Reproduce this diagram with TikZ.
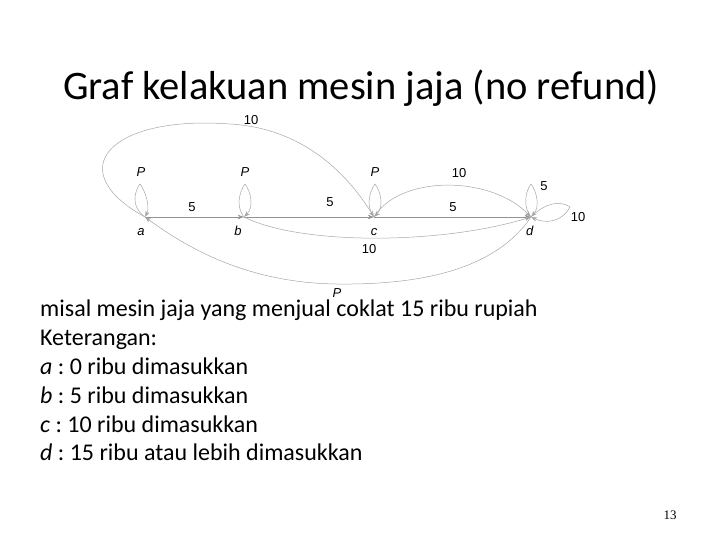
\documentclass[tikz,border=0pt]{standalone}
\usepackage{fontspec}
\setmainfont{Carlito}
\newfontfamily\diagfont{Liberation Sans}
\newfontfamily\pagefont{Liberation Serif}
\usetikzlibrary{arrows.meta}
\frenchspacing

\begin{document}
\begin{tikzpicture}[x=1pt,y=-1pt,
	state/.style={inner sep=0pt,minimum size=0pt},
	lbl/.style={font=\diagfont\fontsize{13}{15}\selectfont,inner sep=0pt},
	trans/.style={draw=gray!85,line width=0.5pt,-{Stealth[length=6pt,width=4.5pt]}},
	curve/.style={trans,draw=gray!70}]
		\useasboundingbox (0,0) rectangle (720,540);
		\node[font=\fontsize{40.5}{46}\selectfont] (title) at (361,88) {Graf kelakuan mesin jaja (no refund)};
		% states
		\node[state, label={[lbl,xshift=-4pt,label distance=11pt]below:\textit{a}}] (a) at (145,217) {};
		\node[state, label={[lbl,xshift=-6pt,label distance=9pt]below:\textit{b}}] (b) at (244,217) {};
		\node[state, label={[lbl,label distance=11pt]below:\textit{c}}] (c) at (374,217) {};
		\node[state, label={[lbl,xshift=-1pt,label distance=9pt]below:\textit{d}}] (d) at (531,217) {};
		% straight transitions
		\draw[trans] (a) -- (b);
		\draw[trans] (b) -- (c);
		\draw[trans] (c) -- (d);
		\node[lbl] (ab) at (192,207) {5};
		\node[lbl] (bc) at (330,202) {5};
		\node[lbl] (cd) at (453,207) {5};
		% curved transitions
		\draw[curve] (a) .. controls (60,170) and (110,115) .. (230,124) .. controls (300,128) and (345,170) .. (c);
		\node[lbl] (ac) at (251,120) {10};
		\draw[curve] (c) .. controls (400,175) and (490,175) .. (d);
		\node[lbl] (cdtop) at (459,173) {10};
		\draw[curve] (b) .. controls (300,245) and (440,245) .. (d);
		\node[lbl] (bd) at (369,249) {10};
		\draw[curve] (d) .. controls (495,270) and (420,285) .. (337,284) .. controls (250,283) and (190,250) .. (a);
		\node[lbl] (da) at (337,293) {\textit{P}};
		% self loops
		\draw[curve] (a) .. controls (131,207) and (134,192) .. (140,184) .. controls (146,192) and (150,207) .. (a);
		\node[lbl] (pa) at (141,172) {\textit{P}};
		\draw[curve] (b) .. controls (236,207) and (239,192) .. (245,184) .. controls (251,192) and (254,207) .. (b);
		\node[lbl] (pb) at (245,172) {\textit{P}};
		\draw[curve] (c) .. controls (366,207) and (369,192) .. (375,184) .. controls (381,192) and (384,207) .. (c);
		\node[lbl] (pc) at (375,172) {\textit{P}};
		\draw[curve] (d) .. controls (523,207) and (525,192) .. (531,184) .. controls (537,192) and (540,207) .. (d);
		\node[lbl] (dd5) at (544,186) {5};
		\draw[curve] (d) .. controls (545,203) and (560,200) .. (570,207) .. controls (562,222) and (546,224) .. (d);
		\node[lbl] (dd10) at (578,217) {10};
		% text
		\node[anchor=north west, align=left, inner sep=0pt, font=\fontsize{24}{28.8}\selectfont] (info) at (40,300)
			{misal mesin jaja yang menjual coklat 15 ribu rupiah\\
			Keterangan:\\
			\textit{a} : 0 ribu dimasukkan\\
			\textit{b} : 5 ribu dimasukkan\\
			\textit{c} : 10 ribu dimasukkan\\
			\textit{d} : 15 ribu atau lebih dimasukkan};
		\node[font=\pagefont\fontsize{13}{15}\selectfont] (page) at (670,515) {13};
\end{tikzpicture}
\end{document}
